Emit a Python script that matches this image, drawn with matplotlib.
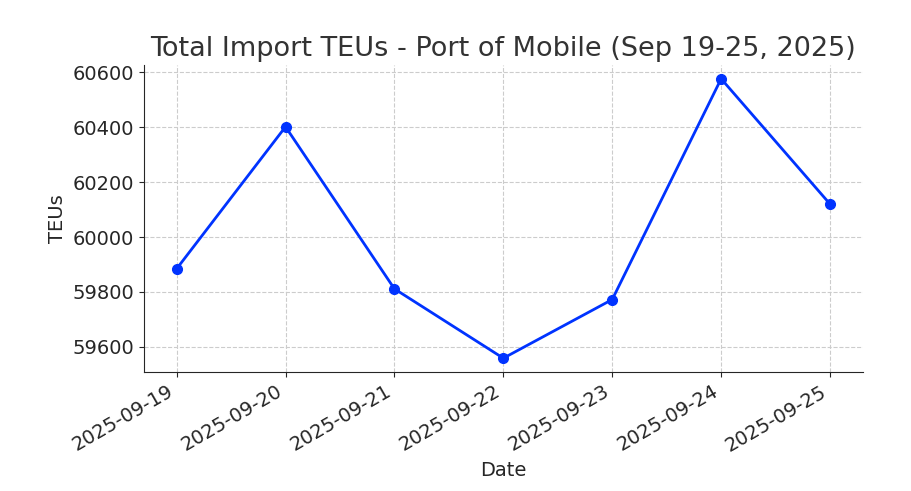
import matplotlib
matplotlib.use('Agg')
import matplotlib.pyplot as plt

dates = ['2025-09-19', '2025-09-20', '2025-09-21', '2025-09-22',
         '2025-09-23', '2025-09-24', '2025-09-25']
teus = [59884, 60402, 59811, 59558, 59772, 60577, 60120]

plt.rcParams['font.family'] = ['DejaVu Sans']
txt = '#262626'

fig, ax = plt.subplots(figsize=(9.11, 4.91), dpi=100)
x = list(range(len(dates)))
ax.plot(x, teus, marker='o', color='#0033FF', linewidth=2, markersize=7)

ax.set_xticks(x)
ax.set_xticklabels(dates, rotation=30, ha='right')
ax.set_title('Total Import TEUs - Port of Mobile (Sep 19-25, 2025)', fontsize=19.5, color='#333333')
ax.set_xlabel('Date', fontsize=14, color=txt)
ax.set_ylabel('TEUs', fontsize=14, color=txt)
ax.tick_params(labelsize=14, colors=txt)
ax.grid(True, linestyle='--', color='#cccccc', linewidth=0.8)
ax.spines['top'].set_visible(False)
ax.spines['right'].set_visible(False)
ax.spines['left'].set_color(txt)
ax.spines['bottom'].set_color(txt)

plt.subplots_adjust(left=0.158, right=0.947, top=0.868, bottom=0.242)
fig.savefig('out.png', dpi=100)
